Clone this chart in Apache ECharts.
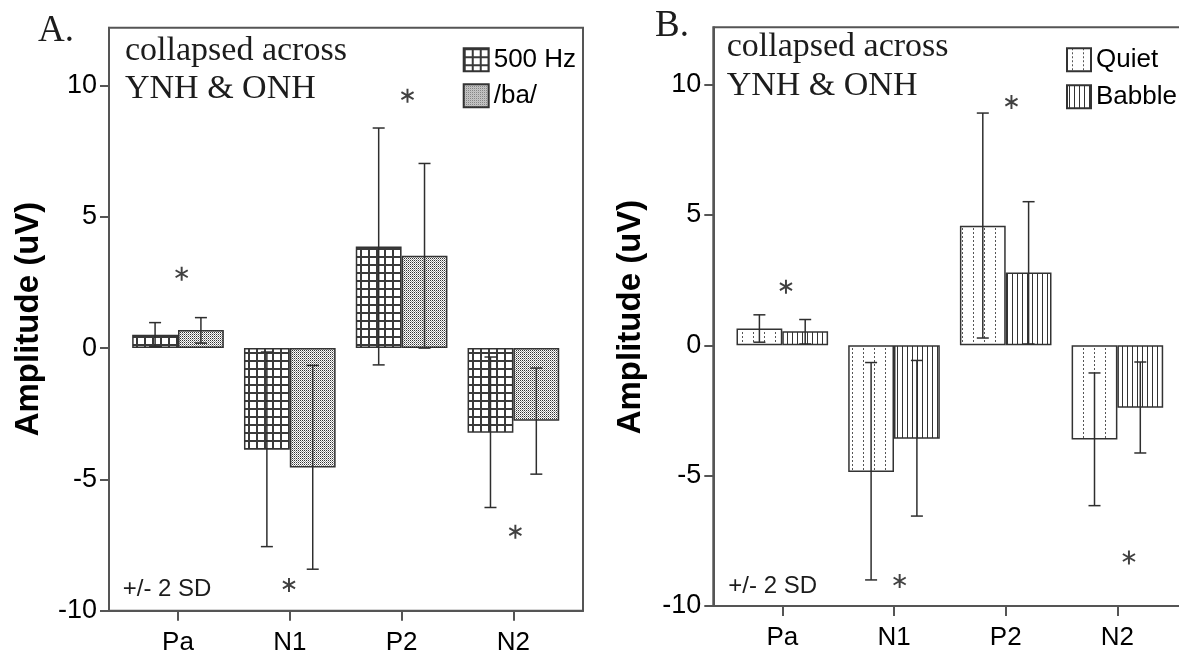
<!DOCTYPE html>
<html>
<head>
<meta charset="utf-8">
<script src="https://cdn.jsdelivr.net/npm/echarts@6/dist/echarts.min.js"></script>
<style>
html,body{margin:0;padding:0;background:#fff;}
#c{width:1179px;height:650px;}
</style>
</head>
<body>
<div id="c"></div>
<script>
// ---------- DATA ----------
const categories = ['Pa', 'N1', 'P2', 'N2'];
const yTicks = [-10, -5, 0, 5, 10];

// Panel A
const hz500Mean = [0.51, -3.87, 3.87, -3.22];
const hz500Low  = [0.06, -7.56, -0.64, -6.07];
const hz500High = [0.97, -0.15, 8.38, -0.34];
const baMean = [0.69, -4.55, 3.52, -2.77];
const baLow  = [0.19, -8.42, 0.00, -4.80];
const baHigh = [1.16, -0.66, 7.03, -0.76];
const starsA = [[0.03, 2.83], [0.99, -9.02], [2.05, 9.61], [3.015, -6.99]];

// Panel B
const quietMean = [0.65, -4.86, 4.59, -3.61];
const quietLow  = [0.12, -9.00, 0.28, -6.15];
const quietHigh = [1.17, -0.66, 8.91, -1.06];
const babbleMean = [0.54, -3.58, 2.79, -2.39];
const babbleLow  = [0.05, -6.55, 0.05, -4.13];
const babbleHigh = [0.99, -0.58, 5.51, -0.64];
const starsB = [[0.03, 2.25], [1.047, -9.04], [2.047, 9.33], [3.098, -8.14]];

// ---------- STYLE HELPERS ----------
function pattern(w, h, draw) {
  const c = document.createElement('canvas');
  c.width = w; c.height = h;
  const g = c.getContext('2d');
  g.fillStyle = '#fff'; g.fillRect(0, 0, w, h);
  draw(g);
  return { image: c, repeat: 'repeat' };
}
const patGrid = pattern(8, 8, g => { g.fillStyle = '#3a3a3a'; g.fillRect(0, 0, 8, 2); g.fillRect(0, 0, 2, 8); });
const patStipple = pattern(2, 2, g => { g.fillStyle = '#333'; g.fillRect(0, 0, 1, 1); g.fillStyle = '#9a9a9a'; g.fillRect(1, 1, 1, 1); });
const patQuiet = pattern(11, 4, g => { g.fillStyle = '#555'; g.fillRect(5, 0, 1, 2); });
const patBabble = pattern(5, 1, g => { g.fillStyle = '#333'; g.fillRect(2, 0, 1, 1); });

const AX = '#555';
const SANS = 'Liberation Sans';
const SERIF = 'Liberation Serif';
const BAR_FRAC = 0.41;
const YMIN = -10, YMAX = 12.2;

const starPath = 'path://M43 0L57 0L57 100L43 100Z M89.8 18.94L96.8 31.06L10.2 81.06L3.2 68.94Z M96.8 68.94L89.8 81.06L3.2 31.06L10.2 18.94Z';

function errSeries(axisIdx, low, high, side) {
  return {
    type: 'custom', xAxisIndex: axisIdx, yAxisIndex: axisIdx, z: 5, silent: true,
    data: categories.map((c, i) => [i, low[i], high[i]]),
    renderItem: function (params, api) {
      const band = api.size([1, 0])[0];
      const cx = api.coord([api.value(0), 0])[0] + side * band * BAR_FRAC / 2;
      const yl = api.coord([api.value(0), api.value(1)])[1];
      const yh = api.coord([api.value(0), api.value(2)])[1];
      const st = { stroke: '#2e2e2e', lineWidth: 1.5 };
      return { type: 'group', children: [
        { type: 'line', shape: { x1: cx, y1: yl, x2: cx, y2: yh }, style: st },
        { type: 'line', shape: { x1: cx - 6, y1: yh, x2: cx + 6, y2: yh }, style: st },
        { type: 'line', shape: { x1: cx - 6, y1: yl, x2: cx + 6, y2: yl }, style: st }
      ]};
    }
  };
}
function barSeries(axisIdx, name, data, color) {
  return {
    type: 'bar', name: name, xAxisIndex: axisIdx, yAxisIndex: axisIdx, data: data,
    barWidth: (BAR_FRAC * 100) + '%', barGap: '0%',
    itemStyle: { color: color, borderColor: '#333', borderWidth: 1.5 }
  };
}
function starSeries(axisIdx, data) {
  return {
    type: 'scatter', xAxisIndex: axisIdx, yAxisIndex: axisIdx, data: data, silent: true,
    symbol: starPath, symbolSize: 14, symbolKeepAspect: true, itemStyle: { color: '#111' }, z: 6
  };
}
function frameX(gi) {
  return { type: 'value', gridIndex: gi, min: -0.62, max: 3.62,
    axisLine: { show: true, onZero: false, lineStyle: { color: AX, width: 2 } },
    axisTick: { show: false }, axisLabel: { show: false }, splitLine: { show: false } };
}
function barX(gi) {
  return { type: 'category', gridIndex: gi, data: categories,
    axisLine: { show: false, onZero: false },
    axisTick: { show: true, alignWithLabel: true, length: 10, lineStyle: { color: AX, width: 2 } },
    axisLabel: { fontSize: 26, color: '#000', fontFamily: SANS, margin: 19 },
    splitLine: { show: false } };
}
function frameY(gi) {
  return { type: 'value', gridIndex: gi, min: YMIN, max: YMAX,
    axisLine: { show: true, onZero: false, lineStyle: { color: AX, width: 2 } },
    axisTick: { show: true, length: 9, lineStyle: { color: AX, width: 2 }, customValues: yTicks },
    axisLabel: { fontSize: 27, color: '#000', fontFamily: SANS, margin: 12, customValues: yTicks },
    splitLine: { show: false } };
}
function barY(gi) {
  return { type: 'value', gridIndex: gi, min: YMIN, max: YMAX, show: false };
}
function txt(x, y, text, size, family, extra) {
  return Object.assign({ type: 'text', x: x, y: y, silent: true,
    style: { text: text, fontSize: size, fontFamily: family, fill: '#1c1c1c', align: 'left', verticalAlign: 'middle' } }, extra || {});
}

const chart = echarts.init(document.getElementById('c'), null, { renderer: 'canvas' });
const option = {
  animation: false,
  backgroundColor: '#fff',
  grid: [
    { left: 109, top: 27.7, width: 474, height: 583, show: true, borderColor: AX, borderWidth: 2, backgroundColor: 'transparent', containLabel: false, outerBoundsMode: 'none' },
    { left: 122.1, top: 27.7, width: 447.2, height: 583, containLabel: false, outerBoundsMode: 'none' },
    { left: 713.3, top: 27.3, width: 474, height: 578.7, show: true, borderColor: AX, borderWidth: 2, backgroundColor: 'transparent', containLabel: false, outerBoundsMode: 'none' },
    { left: 726.45, top: 27.3, width: 446.8, height: 578.7, containLabel: false, outerBoundsMode: 'none' }
  ],
  xAxis: [frameX(0), barX(1), frameX(2), barX(3)],
  yAxis: [frameY(0), barY(1), frameY(2), barY(3)],
  legend: [
    { left: 457.7, top: 41.7, orient: 'vertical', itemWidth: 25, itemHeight: 23, itemGap: 10, icon: 'rect',
      data: ['500 Hz', '/ba/'], selectedMode: false,
      textStyle: { fontSize: 26, color: '#000', fontFamily: SANS, lineHeight: 23 } },
    { left: 1061, top: 41.7, orient: 'vertical', itemWidth: 24, itemHeight: 23, itemGap: 11, icon: 'rect',
      data: ['Quiet', 'Babble'], selectedMode: false,
      textStyle: { fontSize: 26, color: '#000', fontFamily: SANS, lineHeight: 23 } }
  ],
  series: [
    barSeries(1, '500 Hz', hz500Mean, patGrid),
    barSeries(1, '/ba/', baMean, patStipple),
    errSeries(1, hz500Low, hz500High, -1),
    errSeries(1, baLow, baHigh, 1),
    starSeries(0, starsA),
    barSeries(3, 'Quiet', quietMean, patQuiet),
    barSeries(3, 'Babble', babbleMean, patBabble),
    errSeries(3, quietLow, quietHigh, -1),
    errSeries(3, babbleLow, babbleHigh, 1),
    starSeries(2, starsB)
  ],
  graphic: [
    txt(38, 30.8, 'A.', 37, SERIF),
    txt(655, 26, 'B.', 37, SERIF),
    txt(125, 50.6, 'collapsed across', 34, SERIF),
    txt(125, 88.9, 'YNH & ONH', 34, SERIF),
    txt(726.7, 47.2, 'collapsed across', 34, SERIF),
    txt(726.7, 85.6, 'YNH & ONH', 34, SERIF),
    txt(122.7, 589, '+/- 2 SD', 24, SANS),
    txt(728.3, 586.7, '+/- 2 SD', 24, SANS),
    { type: 'text', x: 28.5, y: 319, rotation: Math.PI / 2, silent: true,
      style: { text: 'Amplitude (uV)', fontSize: 33, fontWeight: 'bold', fontFamily: SANS, fill: '#000', align: 'center', verticalAlign: 'middle' } },
    { type: 'text', x: 631, y: 317, rotation: Math.PI / 2, silent: true,
      style: { text: 'Amplitude (uV)', fontSize: 33, fontWeight: 'bold', fontFamily: SANS, fill: '#000', align: 'center', verticalAlign: 'middle' } }
  ]
};
chart.setOption(option);
</script>
</body>
</html>
